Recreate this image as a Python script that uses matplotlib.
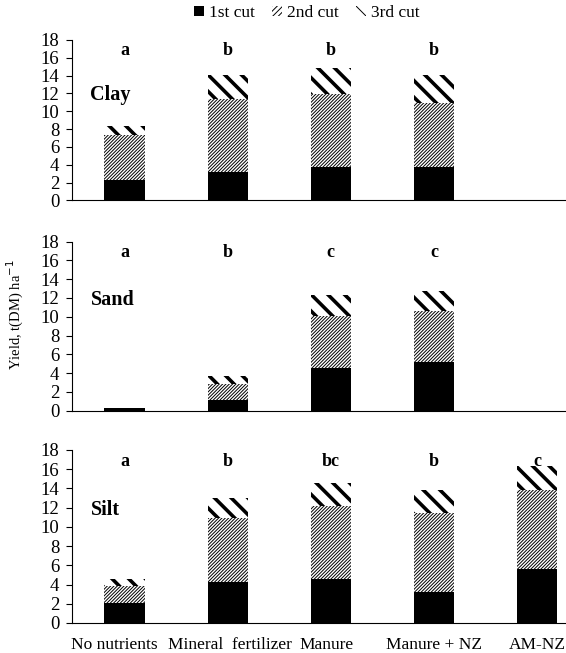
import matplotlib.pyplot as plt
import matplotlib as mpl
from matplotlib.patches import Patch
from matplotlib.transforms import ScaledTranslation

plt.rcParams['font.family'] = ['Liberation Serif', 'DejaVu Serif']

categories = ['No nutrients', 'Mineral  fertilizer', 'Manure', 'Manure + NZ', 'AM-NZ']
soils = ['Clay', 'Sand', 'Silt']

# segment heights, t(DM) ha-1
clay_1st = [2.3, 3.2, 3.8, 3.7, 0]
clay_2nd = [5.0, 8.2, 8.1, 7.2, 0]
clay_3rd = [1.0, 2.7, 2.9, 3.2, 0]

sand_1st = [0.25, 1.1, 4.5, 5.2, 0]
sand_2nd = [0, 1.7, 5.6, 5.4, 0]
sand_3rd = [0, 0.9, 2.2, 2.1, 0]

silt_1st = [2.05, 4.25, 4.6, 3.2, 5.6]
silt_2nd = [1.8, 6.65, 7.6, 8.2, 8.2]
silt_3rd = [0.75, 2.1, 2.35, 2.45, 2.55]

clay_letters = ['a', 'b', 'b', 'b', '']
sand_letters = ['a', 'b', 'c', 'c', '']
silt_letters = ['a', 'b', 'bc', 'b', 'c']

data = [(clay_1st, clay_2nd, clay_3rd, clay_letters),
        (sand_1st, sand_2nd, sand_3rd, sand_letters),
        (silt_1st, silt_2nd, silt_3rd, silt_letters)]

# axes boxes in figure fraction [left, bottom, width, height]
boxes = [[0.127, 0.693, 0.873, 0.246],
         [0.127, 0.371, 0.873, 0.259],
         [0.127, 0.046, 0.873, 0.265]]

fig = plt.figure(figsize=(5.66, 6.53), dpi=100)
x = list(range(len(categories)))
w = 0.39


def hatched_bar(ax, x, h, bottom, hatch, hlw):
    mpl.rcParams['hatch.linewidth'] = hlw
    bars = ax.bar(x, h, w, bottom=bottom, color='white', edgecolor='black',
                  linewidth=0, hatch=hatch)
    for b in bars:
        if hasattr(b, 'set_hatch_linewidth'):
            b.set_hatch_linewidth(hlw)
    return bars


for i, (first, second, third, letters) in enumerate(data):
    ax = fig.add_axes(boxes[i])
    ax.bar(x, first, w, color='black', linewidth=0)
    b2 = [f for f in first]
    hatched_bar(ax, x, second, b2, '//////////', 0.7)
    b3 = [f + s for f, s in zip(first, second)]
    hatched_bar(ax, x, third, b3, '\\\\', 2.6)

    for xi, lab in zip(x, letters):
        ax.text(xi, 16.8, lab, ha='center', va='center', fontsize=13, fontweight='bold')
    ax.text(-0.33, 11.8, soils[i], ha='left', va='center', fontsize=14.5, fontweight='bold')

    ax.set_ylim(0, 18)
    ax.set_xlim(-0.51, 4.28)
    ax.set_yticks(range(0, 19, 2))
    ax.spines['top'].set_visible(False)
    ax.spines['right'].set_visible(False)
    ax.spines['left'].set_linewidth(0.8)
    ax.spines['bottom'].set_linewidth(0.8)
    ax.tick_params(axis='y', direction='out', length=4, width=0.8, labelsize=13.5, pad=5)
    ax.tick_params(axis='x', length=0, labelsize=12.5, pad=10)
    ax.set_xticks(x)
    if i == 2:
        ax.set_xticklabels(categories)
        shifts = [-10, 2, -4, 0, 0]
        for lab, dx in zip(ax.get_xticklabels(), shifts):
            lab.set_transform(lab.get_transform() + ScaledTranslation(dx / 100, 0, fig.dpi_scale_trans))
    else:
        ax.set_xticklabels([])

fig.text(0.027, 0.519, 'Yield, t(DM) ha$^{-1}$', rotation=90, ha='center', va='center',
         fontsize=10.5)

mpl.rcParams['hatch.linewidth'] = 0.7
handles = [Patch(facecolor='black', edgecolor='black', linewidth=0),
           Patch(facecolor='white', edgecolor='black', linewidth=0, hatch='//////'),
           Patch(facecolor='white', edgecolor='black', linewidth=0, hatch='\\\\')]
if hasattr(handles[2], 'set_hatch_linewidth'):
    handles[2].set_hatch_linewidth(1.6)
fig.legend(handles, ['1st cut', '2nd cut', '3rd cut'], loc='center', ncol=3,
           bbox_to_anchor=(0.542, 0.98), frameon=False, fontsize=12.5,
           handlelength=0.55, handleheight=0.55, handletextpad=0.3, columnspacing=1.0)

fig.savefig('out.png', dpi=100)
